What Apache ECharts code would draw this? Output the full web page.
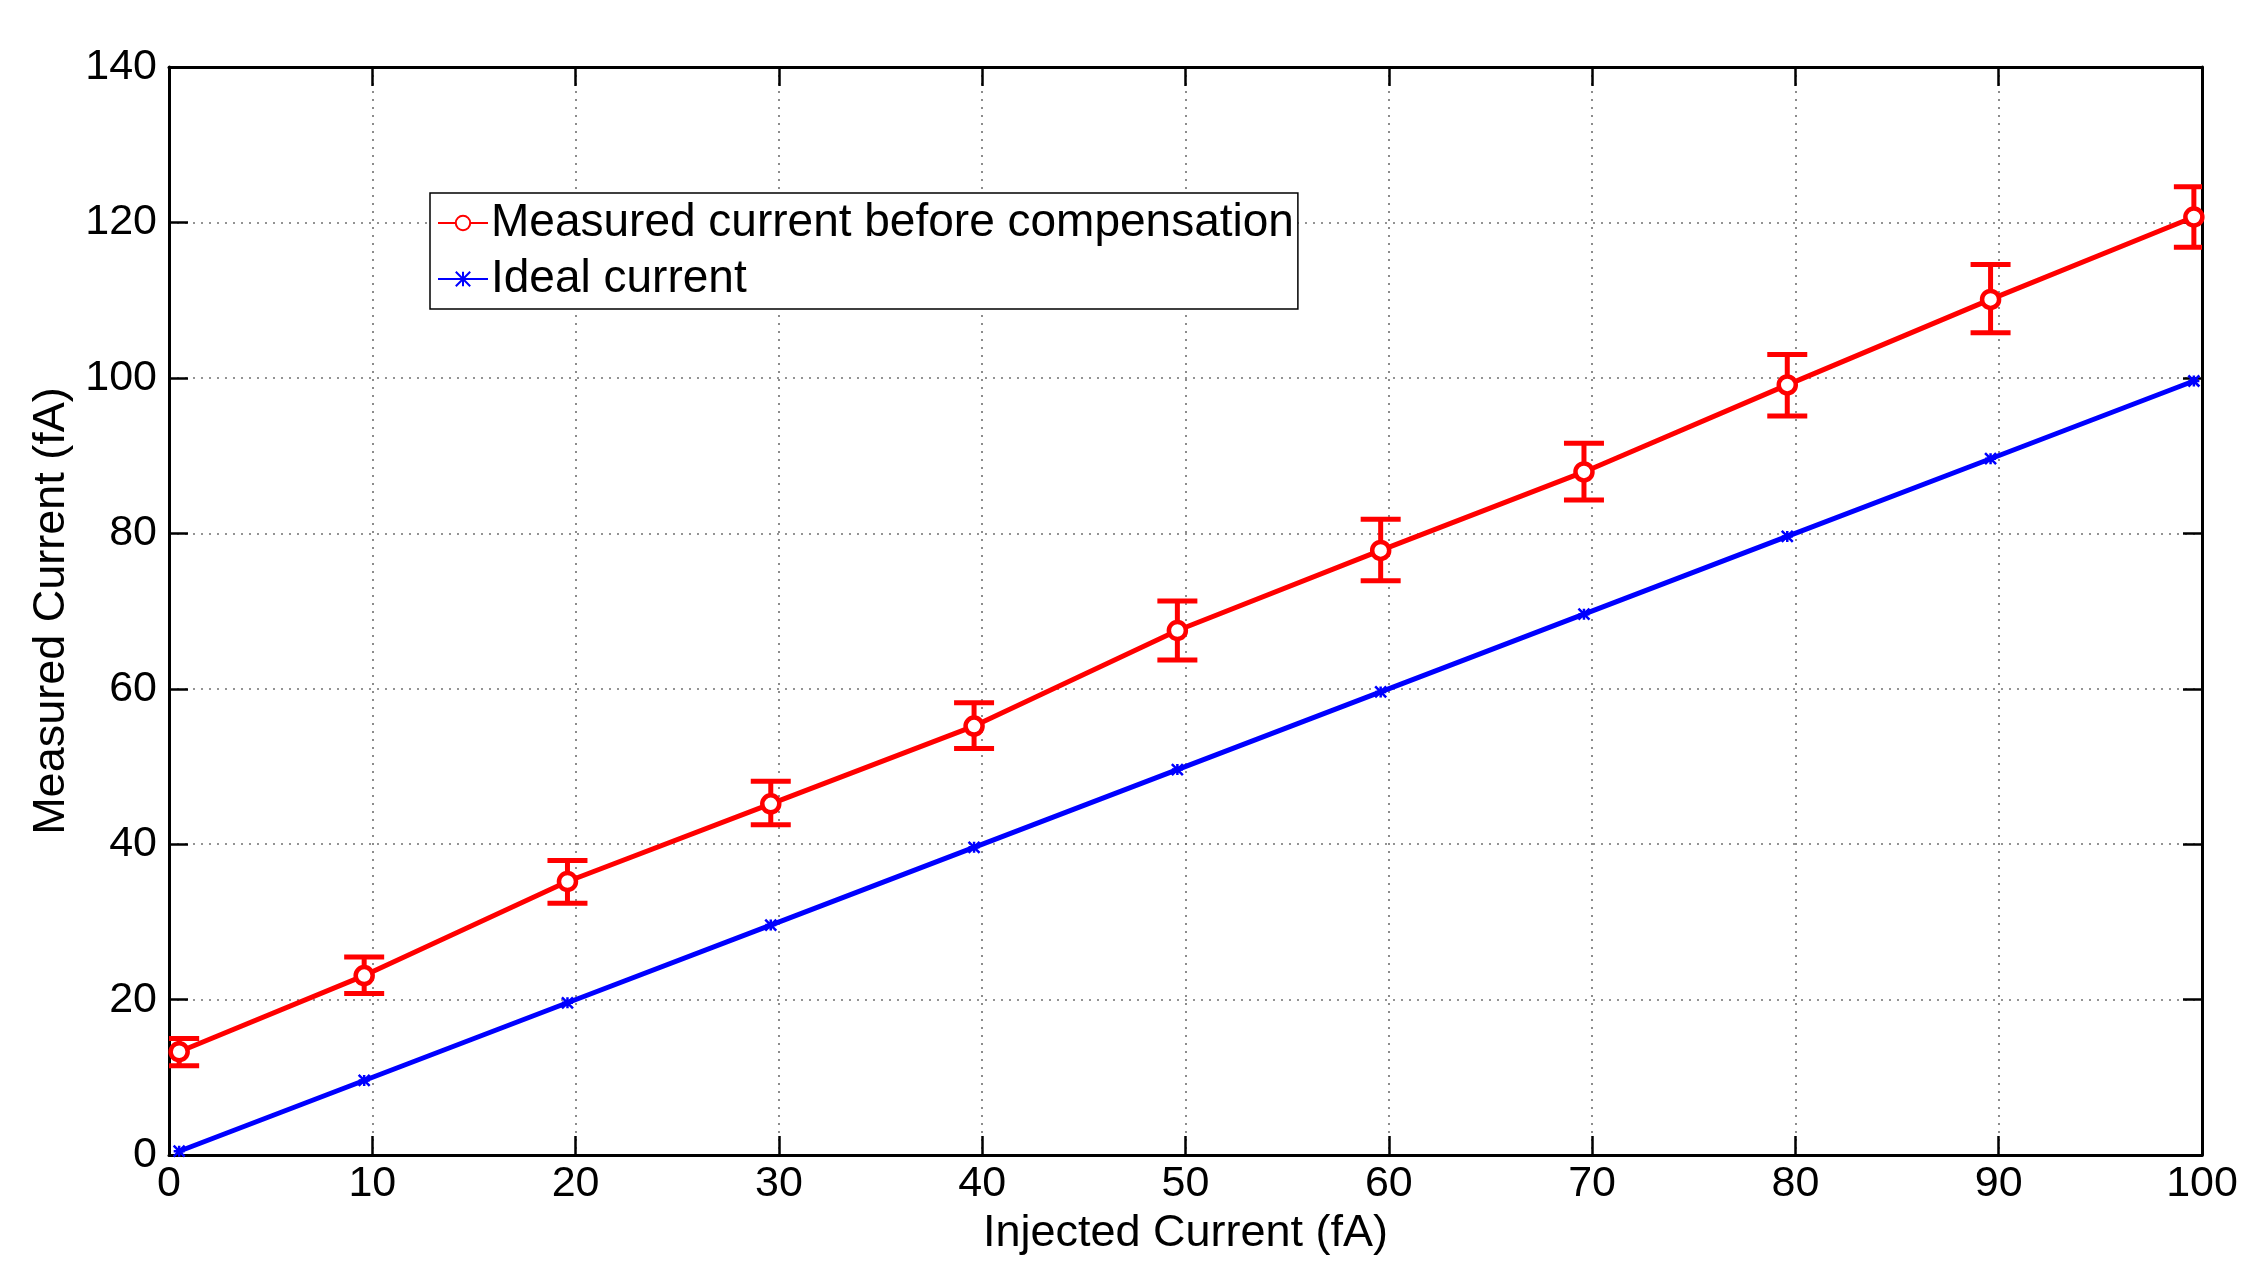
<!DOCTYPE html>
<html>
<head>
<meta charset="utf-8">
<script src="https://cdn.jsdelivr.net/npm/echarts@6/dist/echarts.min.js"></script>
<style>
html,body{margin:0;padding:0;background:#fff;overflow:hidden;}
#chart{width:2245px;height:1261px;}
</style>
</head>
<body>
<div id="chart"></div>
<script>
// ---- data ----
const injected = [0.5, 9.6, 19.6, 29.6, 39.6, 49.6, 59.6, 69.6, 79.6, 89.6, 99.6];
const measured = [13.3, 23.1, 35.2, 45.2, 55.2, 67.5, 77.8, 87.9, 99.1, 110.1, 120.7];
const errLow   = [11.5, 20.8, 32.4, 42.5, 52.3, 63.7, 73.9, 84.3, 95.1, 105.8, 116.8];
const errHigh  = [15.0, 25.5, 37.9, 48.1, 58.2, 71.3, 81.8, 91.6, 103.0, 114.6, 124.6];
const ideal    = [0.5, 9.6, 19.6, 29.6, 39.6, 49.6, 59.6, 69.6, 79.6, 89.6, 99.6];
const seriesNames = ['Measured current before compensation', 'Ideal current'];
const xAxisName = 'Injected Current (fA)';
const yAxisName = 'Measured Current (fA)';

const FONT = '"Liberation Sans", Arial, Helvetica, sans-serif';
const chart = echarts.init(document.getElementById('chart'));

const measuredData = injected.map((x, i) => [x, measured[i]]);
const idealData = injected.map((x, i) => [x, ideal[i]]);
const errData = injected.map((x, i) => [x, errLow[i], errHigh[i]]);

const tick = {show: true, inside: true, length: 19, lineStyle: {color: '#000', width: 2.5}};
const axLine = {show: true, onZero: false, lineStyle: {color: '#000', width: 3}};
const grid = {show: true, lineStyle: {color: '#707070', width: 1.6, type: [2, 6]}};
const label = {fontSize: 43, color: '#000', fontFamily: FONT};

const option = {
  backgroundColor: '#fff',
  animation: false,
  grid: {left: 169, right: 43, top: 67, bottom: 94, containLabel: false},
  legend: {
    data: seriesNames,
    orient: 'vertical',
    left: 430, top: 193,
    itemWidth: 50, itemHeight: 18, itemGap: 10,
    padding: [7, 4, 7, 7],
    backgroundColor: '#fff',
    borderColor: '#000', borderWidth: 1.5, borderRadius: 0,
    textStyle: {fontSize: 46, color: '#000', fontFamily: FONT, padding: [0, 0, 0, -2]}
  },
  xAxis: [{
    type: 'value', min: 0, max: 100, interval: 10, position: 'bottom',
    name: xAxisName, nameLocation: 'middle', nameGap: 45,
    nameTextStyle: {fontSize: 45, color: '#000', fontFamily: FONT, verticalAlign: 'top'},
    axisLine: axLine, axisTick: tick, splitLine: grid,
    axisLabel: Object.assign({margin: 8}, label)
  }, {
    type: 'value', min: 0, max: 100, interval: 10, position: 'top',
    axisLine: axLine, axisTick: tick, splitLine: {show: false}, axisLabel: {show: false}
  }],
  yAxis: [{
    type: 'value', min: 0, max: 140, interval: 20, position: 'left',
    name: yAxisName, nameLocation: 'middle', nameGap: 93,
    nameTextStyle: {fontSize: 45, color: '#000', fontFamily: FONT},
    axisLine: axLine, axisTick: tick, splitLine: grid,
    axisLabel: Object.assign({margin: 12}, label)
  }, {
    type: 'value', min: 0, max: 140, interval: 20, position: 'right',
    axisLine: axLine, axisTick: tick, splitLine: {show: false}, axisLabel: {show: false}
  }],
  series: [
    {
      name: 'errorbars',
      type: 'custom',
      xAxisIndex: 0, yAxisIndex: 0,
      clip: true,
      z: 3,
      data: errData,
      renderItem: function (params, api) {
        const x = api.value(0);
        const lo = api.coord([x, api.value(1)]);
        const hi = api.coord([x, api.value(2)]);
        const hw = 20;
        const st = {stroke: '#ff0000', lineWidth: 5};
        return {
          type: 'group',
          children: [
            {type: 'line', shape: {x1: lo[0], y1: lo[1], x2: hi[0], y2: hi[1]}, style: st},
            {type: 'line', shape: {x1: lo[0] - hw, y1: lo[1], x2: lo[0] + hw, y2: lo[1]}, style: st},
            {type: 'line', shape: {x1: hi[0] - hw, y1: hi[1], x2: hi[0] + hw, y2: hi[1]}, style: st}
          ]
        };
      }
    },
    {
      name: seriesNames[0],
      type: 'line',
      data: measuredData,
      z: 4,
      symbol: 'circle', symbolSize: 17,
      showAllSymbol: true,
      lineStyle: {color: '#ff0000', width: 5},
      itemStyle: {color: '#ffffff', borderColor: '#ff0000', borderWidth: 4.5},
      emphasis: {disabled: true}
    },
    {
      name: seriesNames[1],
      type: 'line',
      data: idealData,
      z: 4,
      symbol: 'path://M0,0L10,10M10,0L0,10M5,0L5,10M0,5L10,5', symbolSize: 11,
      showAllSymbol: true,
      lineStyle: {color: '#0000ff', width: 5},
      itemStyle: {color: '#0000ff', borderColor: '#0000ff', borderWidth: 2.5},
      emphasis: {disabled: true}
    }
  ]
};
chart.setOption(option);
</script>
</body>
</html>
